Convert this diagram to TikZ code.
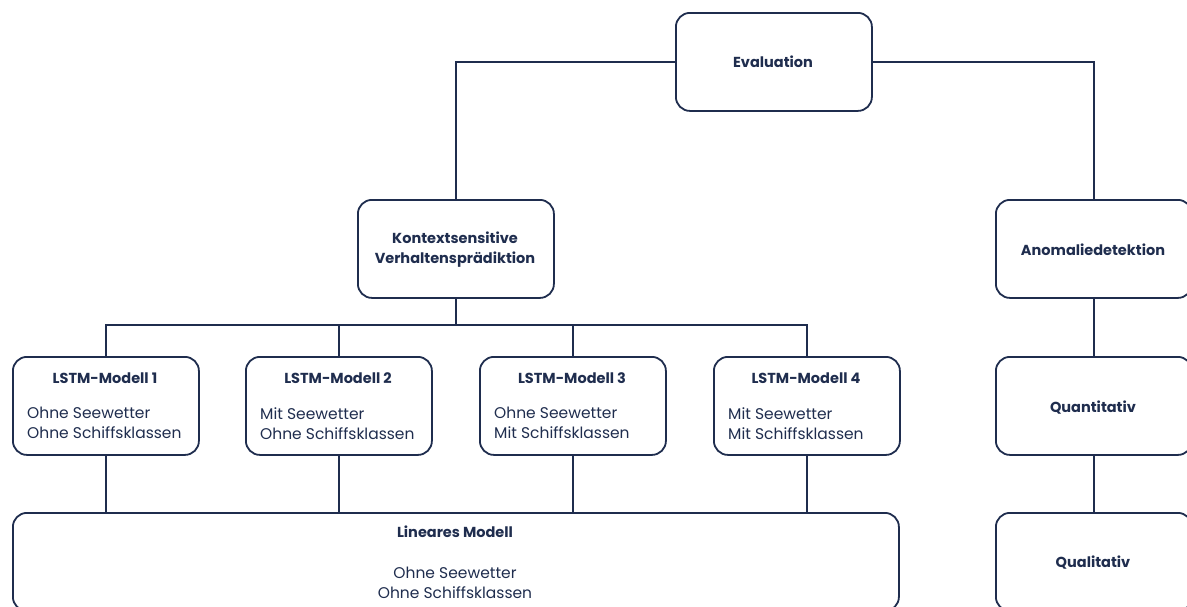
\documentclass[tikz,border=0pt]{standalone}
\usepackage{fontspec}
\setmainfont{Poppins}
\definecolor{navy}{HTML}{1F2D4E}
\begin{document}
\begin{tikzpicture}[x=1pt,y=-1pt,
  box/.style={draw=navy, line width=1.8pt, rounded corners=14pt, minimum width=196pt, minimum height=98pt, inner sep=0pt, anchor=north west},
  lbox/.style={draw=navy, line width=1.8pt, rounded corners=14pt, minimum width=186pt, minimum height=98pt, inner sep=0pt, anchor=north west},
  title/.style={font=\fontsize{14.5}{20}\selectfont\bfseries, text=navy},
  body/.style={font=\fontsize{15.5}{20}\selectfont, text=navy, align=left, anchor=north west, inner sep=0pt},
  conn/.style={draw=navy, line width=2pt}]
\useasboundingbox (0,0) rectangle (1187,606);
\clip (0,0) rectangle (1187,606);
% boxes
\node[box] (eval) at (675,12) {};
\node[title] at (773,62) {Evaluation};
\node[box] (kontext) at (357,199) {};
\node[title, align=center] at (455,250) {Kontextsensitive\\Verhaltensprädiktion};
\node[box] (anom) at (995,199) {};
\node[title] at (1093,250) {Anomaliedetektion};
\node[box] (quant) at (995,356) {};
\node[title] at (1093,408) {Quantitativ};
\node[box] (qual) at (995,512) {};
\node[title] at (1093,563) {Qualitativ};
% LSTM boxes
\foreach \n/\x/\a/\b in {1/12/Ohne/Ohne, 2/245/Mit/Ohne, 3/479/Ohne/Mit, 4/713/Mit/Mit}{
  \node[lbox] (l\n) at (\x,356) {};
  \node[title] at (\x+93,378) {LSTM-Modell \n};
  \node[body] at (\x+15,407) {\a{} Seewetter\\\b{} Schiffsklassen};
}
\node[draw=navy, line width=1.8pt, rounded corners=14pt, minimum width=886pt, minimum height=98pt, inner sep=0pt, anchor=north west] (lin) at (12,512) {};
\node[title] at (455,532) {Lineares Modell};
\node[body, align=center, anchor=north] at (455,567) {Ohne Seewetter\\Ohne Schiffsklassen};
% connectors
\draw[conn] (eval.west) -| (kontext.north);
\draw[conn] (eval.east) -| (anom.north);
\coordinate (bus) at (455,325);
\draw[conn] (kontext.south) -- (kontext.south |- bus);
\draw[conn] (l1.north) |- (l4.north |- bus) -- (l4.north);
\draw[conn] (l2.north) -- (l2.north |- bus);
\draw[conn] (l3.north) -- (l3.north |- bus);
\foreach \n in {1,2,3,4}{
  \draw[conn] (l\n.south) -- (l\n.south |- lin.north);
}
\draw[conn] (anom.south) -- (quant.north);
\draw[conn] (quant.south) -- (qual.north);
\end{tikzpicture}
\end{document}
